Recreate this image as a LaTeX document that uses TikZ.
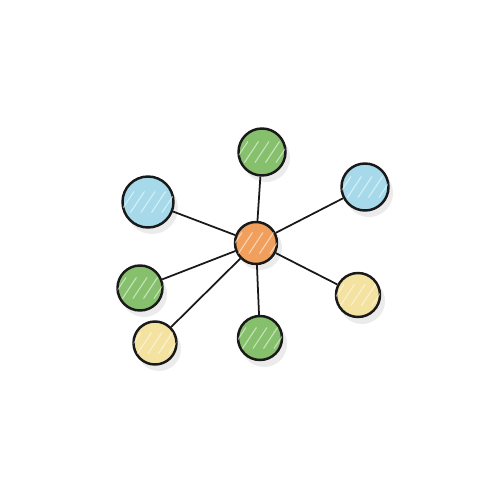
\documentclass[tikz,border=0pt]{standalone}
\usepackage{tikz}
\usetikzlibrary{positioning}
\definecolor{leafgreen}{RGB}{134,192,108}
\definecolor{skyblue}{RGB}{166,218,234}
\definecolor{paleyellow}{RGB}{244,226,160}
\definecolor{hubor}{RGB}{240,160,92}
\tikzstyle{ball} = [circle,draw=black!90,line width=1.4pt,inner sep=0pt,
  postaction={path picture={\foreach \k in {-2,...,2} {\draw[white,opacity=0.55,line width=0.6pt]
  ([xshift=\k*6pt-4pt,yshift=-6pt]path picture bounding box.center) -- ++(8pt,12pt);}}}]
\tikzstyle{shade} = [circle,fill=black!8,inner sep=0pt]
\tikzstyle{spoke} = [draw,black!90,line width=1pt]

\begin{document}
\begin{tikzpicture}[x=0.02cm,y=-0.02cm]
            \useasboundingbox (0,0) rectangle (500,500);
            % shadows
            \node[shade,minimum size=44*0.02cm] at (260,248) {};
            \node[shade,minimum size=48*0.02cm] at (266,158) {};
            \node[shade,minimum size=48*0.02cm] at (369,193) {};
            \node[shade,minimum size=52*0.02cm] at (152,208) {};
            \node[shade,minimum size=46*0.02cm] at (144,294) {};
            \node[shade,minimum size=46*0.02cm] at (362,301) {};
            \node[shade,minimum size=46*0.02cm] at (264,344) {};
            \node[shade,minimum size=44*0.02cm] at (159,349) {};
            % nodes
            \node[ball,fill=hubor,minimum size=42*0.02cm] (hub) at (256,243) {};
            \node[ball,fill=leafgreen,minimum size=47*0.02cm] (top) at (262,152) {};
            \node[ball,fill=skyblue,minimum size=47*0.02cm] (ne) at (365,187) {};
            \node[ball,fill=skyblue,minimum size=51*0.02cm] (nw) at (148,202) {};
            \node[ball,fill=leafgreen,minimum size=45*0.02cm] (west) at (140,288) {};
            \node[ball,fill=paleyellow,minimum size=44*0.02cm] (east) at (358,295) {};
            \node[ball,fill=leafgreen,minimum size=44*0.02cm] (bottom) at (260,338) {};
            \node[ball,fill=paleyellow,minimum size=43*0.02cm] (sw) at (155,343) {};
            % spokes
            \path[spoke] (hub) -- (top);
            \path[spoke] (hub) -- (ne);
            \path[spoke] (hub) -- (nw);
            \path[spoke] (hub) -- (west);
            \path[spoke] (hub) -- (east);
            \path[spoke] (hub) -- (bottom);
            \path[spoke] (hub) -- (sw);
        \end{tikzpicture}
\end{document}
